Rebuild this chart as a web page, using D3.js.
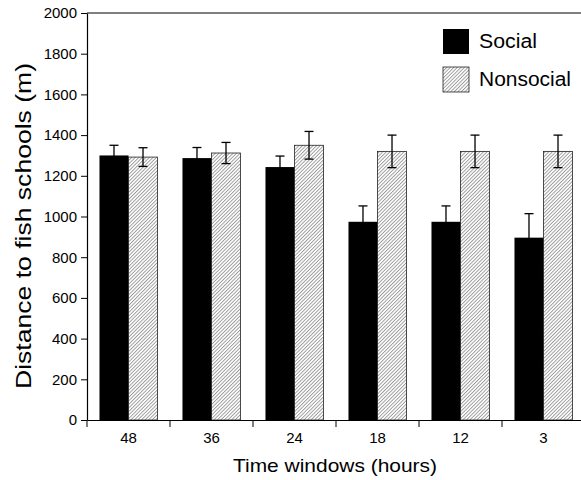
<!DOCTYPE html>
<html>
<head>
<meta charset="utf-8">
<script src="https://cdn.jsdelivr.net/npm/d3@7"></script>
<style>
  body { margin: 0; background: #fff; }
  svg { display: block; font-family: "Liberation Sans", Arial, sans-serif; }
</style>
</head>
<body>
<div id="chart"></div>
<script>
// Distance to fish schools by time window
const windows = ['48', '36', '24', '18', '12', '3'];
const groups = ['Social', 'Nonsocial'];
const socialMean = [1300, 1287, 1243, 974, 974, 896];
const socialErr = [50, 52, 54, 78, 78, 118];
const nonsocialMean = [1292, 1312, 1350, 1320, 1320, 1320];
const nonsocialErr = [46, 52, 68, 80, 80, 80];
const yTicks = [0, 200, 400, 600, 800, 1000, 1200, 1400, 1600, 1800, 2000];

const chWidth = 581, chHeight = 480;
const pLeft = 87, pTop = 13, pBottom = 420, pRight = 585;

let svg = d3.select('#chart').append('svg')
    .attr('width', chWidth)
    .attr('height', chHeight);

// hatch pattern
svg.append('defs').append('pattern')
    .attr('id', 'hatch')
    .attr('patternUnits', 'userSpaceOnUse')
    .attr('width', 2.5)
    .attr('height', 6)
    .attr('patternTransform', 'rotate(45)')
    .append('line')
    .attr('x1', 0.5).attr('x2', 0.5)
    .attr('y1', 0).attr('y2', 6)
    .attr('stroke', '#6a6a6a')
    .attr('stroke-width', 0.7);

let x0 = d3.scaleBand().domain(windows).range([pLeft, pRight]);
let x1 = d3.scaleBand().domain(groups).range([0, x0.bandwidth()])
    .paddingInner(0).paddingOuter(0.43);
let y = d3.scaleLinear().domain([0, 2000]).range([pBottom, pTop]);

let rows = windows.map((w, i) => ({
    w: w,
    vals: [
        {g: 'Social', m: socialMean[i], e: socialErr[i]},
        {g: 'Nonsocial', m: nonsocialMean[i], e: nonsocialErr[i]}
    ]
}));

let grp = svg.append('g').selectAll('g')
    .data(rows).enter().append('g')
    .attr('transform', d => `translate(${x0(d.w)},0)`);

grp.selectAll('rect')
    .data(d => d.vals).enter().append('rect')
    .attr('x', d => x1(d.g))
    .attr('y', d => y(d.m))
    .attr('width', x1.bandwidth())
    .attr('height', d => pBottom - y(d.m))
    .attr('fill', d => d.g == 'Social' ? '#000' : 'url(#hatch)')
    .attr('stroke', d => d.g == 'Social' ? 'none' : '#222')
    .attr('stroke-width', 0.8);

// error bars
let eb = grp.selectAll('g.err')
    .data(d => d.vals).enter().append('g')
    .attr('class', 'err')
    .attr('transform', d => `translate(${x1(d.g) + x1.bandwidth() / 2},0)`)
    .attr('stroke', '#000')
    .attr('stroke-width', 1.3);
eb.append('line')
    .attr('y1', d => y(d.m - d.e))
    .attr('y2', d => y(d.m + d.e));
eb.append('line')
    .attr('x1', -4.5).attr('x2', 4.5)
    .attr('y1', d => y(d.m + d.e))
    .attr('y2', d => y(d.m + d.e));
eb.append('line')
    .attr('x1', -4.5).attr('x2', 4.5)
    .attr('y1', d => y(d.m - d.e))
    .attr('y2', d => y(d.m - d.e));

// y axis
let yAxis = svg.append('g')
    .attr('transform', `translate(${pLeft},0)`)
    .call(d3.axisLeft(y).tickValues(yTicks).tickFormat(d3.format('d'))
        .tickSize(6).tickSizeOuter(0).tickPadding(4));
yAxis.selectAll('text').style('font-size', '15px').attr('fill', '#000');
yAxis.select('.domain').attr('stroke-width', 1.2);

// x axis
let xAxis = svg.append('g')
    .attr('transform', `translate(0,${pBottom})`)
    .call(d3.axisBottom(x0).tickSize(0).tickPadding(12));
xAxis.selectAll('text').style('font-size', '15px').attr('fill', '#000');
xAxis.select('.domain').attr('stroke-width', 1.2);
xAxis.selectAll('.bnd')
    .data(windows).enter().append('line')
    .attr('class', 'bnd')
    .attr('x1', d => x0(d)).attr('x2', d => x0(d))
    .attr('y1', 0).attr('y2', 7)
    .attr('stroke', '#000');

// top frame line
svg.append('line')
    .attr('x1', pLeft).attr('x2', chWidth)
    .attr('y1', pTop).attr('y2', pTop)
    .attr('stroke', '#000')
    .attr('stroke-width', 1.2);

// axis titles
svg.append('text')
    .attr('transform', 'translate(31,226) rotate(-90)')
    .attr('text-anchor', 'middle')
    .attr('textLength', 326)
    .attr('lengthAdjust', 'spacingAndGlyphs')
    .style('font-size', '22px')
    .text('Distance to fish schools (m)');
svg.append('text')
    .attr('x', 335)
    .attr('y', 472)
    .attr('text-anchor', 'middle')
    .attr('textLength', 204)
    .attr('lengthAdjust', 'spacingAndGlyphs')
    .style('font-size', '19px')
    .text('Time windows (hours)');

// legend
let leg = svg.append('g').selectAll('g')
    .data(groups).enter().append('g')
    .attr('transform', (d, i) => `translate(443,${29 + i * 38})`);
leg.append('rect')
    .attr('width', 26).attr('height', 25)
    .attr('fill', d => d == 'Social' ? '#000' : 'url(#hatch)')
    .attr('stroke', d => d == 'Social' ? 'none' : '#222')
    .attr('stroke-width', 0.8);
leg.append('text')
    .attr('x', 36)
    .attr('y', 19)
    .attr('textLength', d => d == 'Social' ? 58 : 92)
    .attr('lengthAdjust', 'spacingAndGlyphs')
    .style('font-size', '20px')
    .text(d => d);
</script>
</body>
</html>
